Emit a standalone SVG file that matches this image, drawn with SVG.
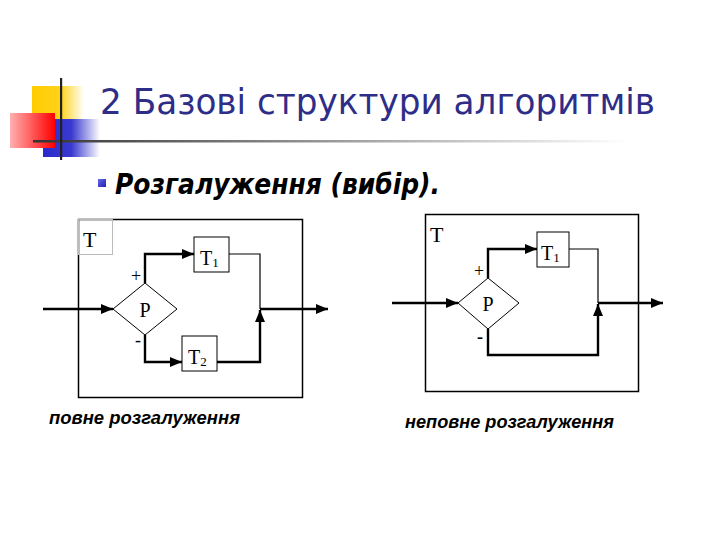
<svg xmlns="http://www.w3.org/2000/svg" width="720" height="540" viewBox="0 0 720 540">
<defs>
<linearGradient id="gy" x1="0" x2="1" y1="0" y2="0"><stop offset="0" stop-color="#FFCC00"/><stop offset="0.55" stop-color="#FFD21A"/><stop offset="1" stop-color="#FFFFFF"/></linearGradient>
<linearGradient id="gr" x1="0" x2="1" y1="0" y2="0"><stop offset="0" stop-color="#FFB0B0"/><stop offset="1" stop-color="#FF0000"/></linearGradient>
<linearGradient id="gb" x1="0" x2="1" y1="0" y2="0"><stop offset="0" stop-color="#2A2ACC"/><stop offset="0.5" stop-color="#3A3AD0"/><stop offset="1" stop-color="#FFFFFF"/></linearGradient>
<linearGradient id="gl" x1="0" x2="1" y1="0" y2="0"><stop offset="0" stop-color="#333333"/><stop offset="0.5" stop-color="#999999"/><stop offset="1" stop-color="#FFFFFF"/></linearGradient>
<linearGradient id="gbul" x1="0" x2="1" y1="0" y2="1"><stop offset="0" stop-color="#6666EE"/><stop offset="1" stop-color="#2222AA"/></linearGradient>
<marker id="ah" viewBox="0 0 12 10" refX="12" refY="5" markerWidth="12" markerHeight="10" markerUnits="userSpaceOnUse" orient="auto"><path d="M0,0 L12,5 L0,10 Z" fill="#000"/></marker>
</defs>
<style>
.box{fill:#fff;stroke:#000;stroke-width:1.5}
.blk{fill:#fff;stroke:#000;stroke-width:1}
.th{fill:none;stroke:#000;stroke-width:2.4}
.tn{fill:none;stroke:#000;stroke-width:1.2}
.ser{font-family:"Liberation Serif",serif;fill:#000}
.lbl{font-family:"Liberation Sans",Arial,sans-serif;font-style:italic;font-weight:bold;font-size:18px;fill:#000}
</style>
<g id="logo">
<rect x="32" y="86" width="52" height="34" fill="url(#gy)"/>
<rect x="43" y="119" width="57" height="38" fill="url(#gb)"/>
<rect x="10" y="113" width="45" height="35" fill="url(#gr)"/>
<rect x="33" y="140" width="594" height="2.5" fill="url(#gl)"/>
<rect x="60" y="78" width="2.2" height="82" fill="#222"/>
</g>
<text id="title" x="100" y="114" font-family="'DejaVu Sans',Verdana,sans-serif" font-size="35" fill="#2E2E88" textLength="555" lengthAdjust="spacingAndGlyphs">2 Базові структури алгоритмів</text>
<g id="subtitle">
<rect x="98" y="179" width="8" height="8" fill="url(#gbul)"/>
<text x="115" y="194" font-family="'DejaVu Sans',Verdana,sans-serif" font-size="28" font-weight="bold" font-style="italic" fill="#000" textLength="325" lengthAdjust="spacingAndGlyphs">Розгалуження (вибір).</text>
</g>
<g id="full">
<rect class="box" x="78.5" y="219.5" width="224" height="178"/>
<rect x="78.5" y="219.5" width="34" height="35" fill="none" stroke="#bbb" stroke-width="1"/>
<text class="ser" x="83" y="247" font-size="22">T</text>
<g id="full-P"><polygon class="blk" points="113,309 145,283 177,309 145,335"/><text class="ser" x="145" y="317" font-size="20" text-anchor="middle">P</text></g>
<g id="full-T1"><rect class="blk" x="194" y="237" width="35" height="35"/><text class="ser" x="200" y="265" font-size="20">T<tspan font-size="13" dy="2">1</tspan></text></g>
<g id="full-T2"><rect class="blk" x="182" y="336" width="35" height="35"/><text class="ser" x="188" y="364" font-size="20">T<tspan font-size="13" dy="2">2</tspan></text></g>
<text class="ser" x="131" y="282" font-size="18">+</text>
<text class="ser" x="135" y="346" font-size="18">-</text>
</g>
<g id="partial">
<rect class="box" x="425.5" y="214.5" width="213" height="177"/>
<text class="ser" x="430" y="242" font-size="22">T</text>
<g id="part-P"><polygon class="blk" points="458,303 488,278 519,303 488,329"/><text class="ser" x="488" y="311" font-size="20" text-anchor="middle">P</text></g>
<g id="part-T1"><rect class="blk" x="537" y="232" width="32" height="35"/><text class="ser" x="541" y="260" font-size="20">T<tspan font-size="13" dy="2">1</tspan></text></g>
<text class="ser" x="474" y="277" font-size="18">+</text>
<text class="ser" x="477" y="343" font-size="18" font-weight="bold">-</text>
</g>
<g id="connectors">
<line class="th" x1="43" y1="309" x2="113" y2="309" marker-end="url(#ah)"/>
<polyline class="th" points="145,283 145,254 194,254" marker-end="url(#ah)"/>
<polyline class="th" points="145,335 145,362 182,362" marker-end="url(#ah)"/>
<polyline class="tn" points="229,254 260,254 260,309"/>
<polyline class="th" points="217,362 260,362 260,310" marker-end="url(#ah)"/>
<line class="th" x1="260" y1="309" x2="328" y2="309" marker-end="url(#ah)"/>
<line class="th" x1="392" y1="303" x2="458" y2="303" marker-end="url(#ah)"/>
<polyline class="th" points="488,278 488,249 537,249" marker-end="url(#ah)"/>
<polyline class="tn" points="569,249 598,249 598,303"/>
<polyline class="th" points="488,329 488,355 598,355 598,304" marker-end="url(#ah)"/>
<line class="th" x1="598" y1="303" x2="663" y2="303" marker-end="url(#ah)"/>
</g>
<text class="lbl" x="49" y="424" textLength="191" lengthAdjust="spacingAndGlyphs">повне розгалуження</text>
<text class="lbl" x="405" y="428" textLength="209" lengthAdjust="spacingAndGlyphs">неповне розгалуження</text>
</svg>
